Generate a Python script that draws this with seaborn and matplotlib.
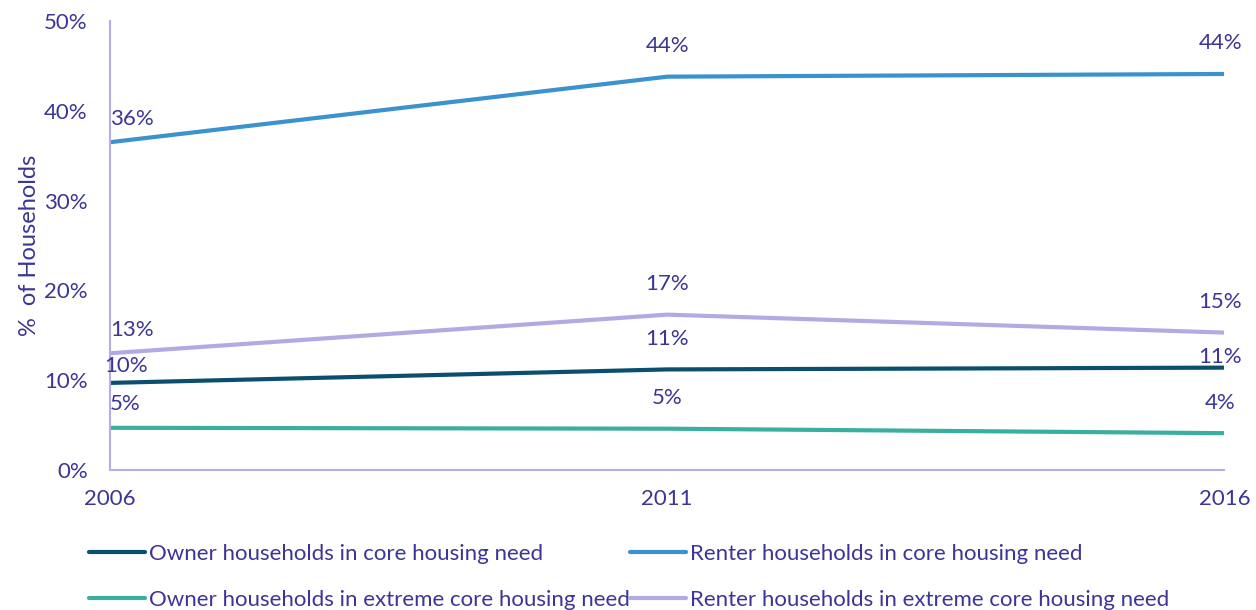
import matplotlib
matplotlib.use("Agg")
import matplotlib.pyplot as plt
import seaborn as sns
import pandas as pd

years = [2006, 2011, 2016]
series_names = [
    "Owner households in core housing need",
    "Owner households in extreme core housing need",
    "Renter households in core housing need",
    "Renter households in extreme core housing need",
]
owner_core = [0.097, 0.112, 0.114]
owner_extreme = [0.047, 0.046, 0.041]
renter_core = [0.365, 0.438, 0.441]
renter_extreme = [0.130, 0.173, 0.153]
y_ticks = [0.0, 0.1, 0.2, 0.3, 0.4, 0.5]
y_tick_labels = ["0%", "10%", "20%", "30%", "40%", "50%"]

colors = ["#0A4F6E", "#3AAE9F", "#3A92CE", "#B2AAE3"]
text_color = "#3B3597"
spine_color = "#B4AEE8"

values = [owner_core, owner_extreme, renter_core, renter_extreme]
rows = []
for name, vals in zip(series_names, values):
    for yr, v in zip(years, vals):
        rows.append({"Year": yr, "Value": v, "Series": name})
df = pd.DataFrame(rows)

sns.set_style("white")
plt.rcParams["font.family"] = ["Lato", "DejaVu Sans"]

fig = plt.figure(figsize=(12.56, 6.10), dpi=100)
ax = fig.add_axes([0.0876, 0.2295, 0.9749 - 0.0876, 0.9656 - 0.2295])

sns.lineplot(data=df, x="Year", y="Value", hue="Series", hue_order=series_names,
             palette=colors, linewidth=3, ax=ax, legend=False)

fs = 16
ax.set_xlim(2006, 2016)
ax.set_ylim(0, 0.5)
ax.set_xticks(years)
ax.set_xticklabels([str(y) for y in years], fontsize=fs, color=text_color)
ax.set_yticks(y_ticks)
ax.set_yticklabels(y_tick_labels, fontsize=fs, color=text_color)
ax.tick_params(axis="both", length=0)
ax.tick_params(axis="x", pad=14)
ax.tick_params(axis="y", pad=16)
ax.set_xlabel("")
ax.set_ylabel("%  of Households", fontsize=17, color=text_color, labelpad=3)
for s in ["top", "right"]:
    ax.spines[s].set_visible(False)
for s in ["left", "bottom"]:
    ax.spines[s].set_color(spine_color)
    ax.spines[s].set_linewidth(1.5)

# data labels
for si, vals in enumerate(values):
    for xi, (yr, v) in enumerate(zip(years, vals)):
        dy = 22
        if xi == 0:
            dy = 17
        if si == 0 and xi == 0:
            dy = 12
        if si == 0 and xi == 2:
            dy = 8
        if xi == 0:
            ha, dx = "left", 0 if si != 0 else -4
        elif xi == 2:
            ha, dx = "center", -3
        else:
            ha, dx = "center", 0
        ax.annotate(f"{round(v * 100):.0f}%", (yr, v), xytext=(dx, dy),
                    textcoords="offset points", ha=ha, va="center",
                    fontsize=fs, color=text_color, annotation_clip=False)

handles = [plt.Line2D([], [], color=c, linewidth=3) for c in colors]
fig.legend(handles, series_names, loc="upper left", bbox_to_anchor=(0.071, 0.109),
           ncol=2, frameon=False, fontsize=fs, labelcolor=text_color,
           handlelength=2.5, handletextpad=0.2, columnspacing=0.0,
           labelspacing=1.2, borderaxespad=0, borderpad=0)

fig.savefig("out.png", dpi=100)
